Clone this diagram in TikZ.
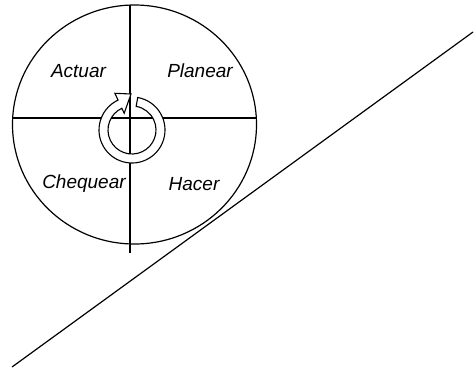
\documentclass[tikz,border=0pt]{standalone}
\usepackage{fontspec}
\usepackage{tikz}
\usetikzlibrary{shapes.geometric,positioning,calc}
\newfontfamily\labelfont{Liberation Sans}

\begin{document}
\begin{tikzpicture}[
    x=1pt, y=-1pt,
    wheel/.style={ellipse, draw=black, line width=1.2pt, minimum width=244pt, minimum height=239pt, inner sep=0pt},
    axis/.style={draw=black, line width=1.2pt},
    phase/.style={font=\labelfont\itshape\fontsize{19}{22}\selectfont, inner sep=0pt},
    cyclearrow/.style={draw=black, fill=white, line width=1.1pt, line join=miter}
]
\useasboundingbox (0,0) rectangle (474,368);

% Wheel
\node[wheel] (wheel) at (134.5,124.5) {};

% Cross
\coordinate (top) at (130,5);
\coordinate (bottom) at (130,253);
\coordinate (left) at (12,118);
\coordinate (right) at (256,118);
\draw[axis] (top) -- (bottom);
\draw[axis] (left) -- (right);

% Phases
\node[phase] (actuar) at (78.5,71) {Actuar};
\node[phase] (planear) at (200,71) {Planear};
\node[phase] (chequear) at (84,184) {Chequear};
\node[phase] (hacer) at (194,184) {Hacer};

% Cycle arrow
\coordinate (ctr) at (132,130);
\coordinate (tip) at (131,94);
\path[cyclearrow] ($(ctr)+(-80:33)$) arc (-80:245:33)
    -- ($(ctr)+(245:40.5)$) -- (tip) -- ($(ctr)+(245:18.5)$)
    -- ($(ctr)+(245:24)$) arc (245:-80:24) -- cycle;

% Slope
\coordinate (slope start) at (12,367);
\coordinate (slope end) at (473,32);
\draw[axis] (slope start) -- (slope end);

\end{tikzpicture}
\end{document}
